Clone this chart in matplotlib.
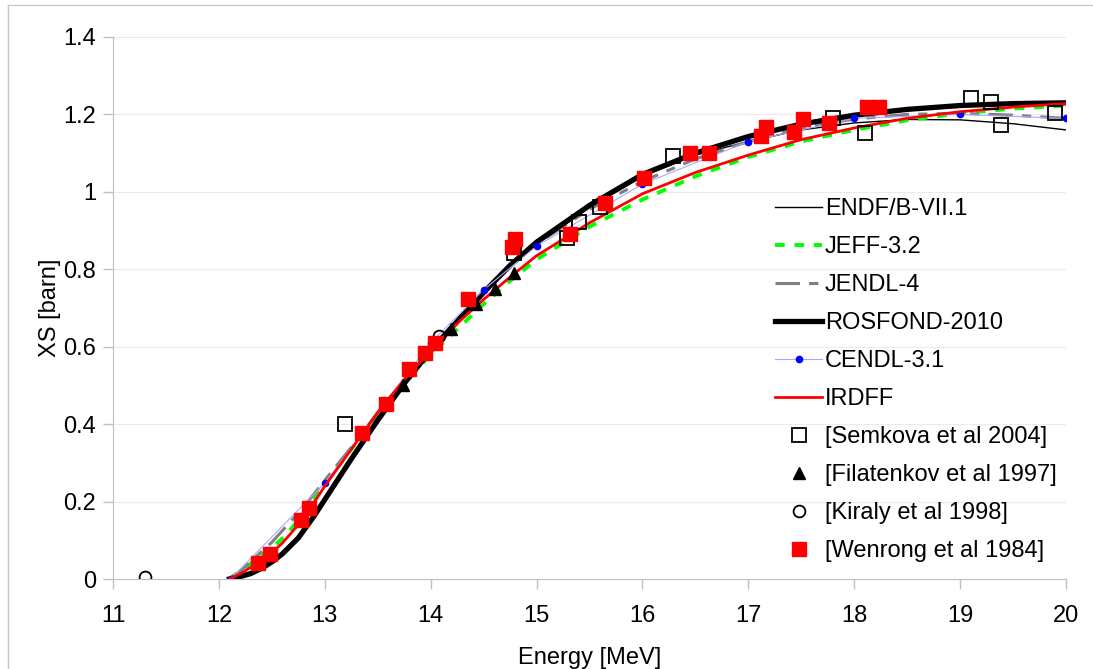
import numpy as np
import matplotlib
matplotlib.use('Agg')
import matplotlib.pyplot as plt
from matplotlib.lines import Line2D

# evaluated curves (common energy grid, MeV)
energy = [12.1, 12.2, 12.3, 12.4, 12.5, 12.6, 12.75, 12.9, 13.0, 13.25, 13.5, 13.75, 14.0, 14.25,
          14.5, 14.75, 15.0, 15.5, 16.0, 16.5, 17.0, 17.5, 18.0, 18.5, 19.0, 19.5, 20.0]
endf = [0, 0.006, 0.015, 0.03, 0.048, 0.068, 0.11, 0.168, 0.21, 0.315, 0.415, 0.51, 0.595, 0.67,
        0.74, 0.805, 0.865, 0.96, 1.04, 1.095, 1.13, 1.16, 1.178, 1.187, 1.186, 1.176, 1.16]
jeff = [0, 0.02, 0.04, 0.06, 0.08, 0.105, 0.15, 0.205, 0.245, 0.335, 0.425, 0.505, 0.58, 0.645,
        0.71, 0.77, 0.825, 0.91, 0.98, 1.04, 1.09, 1.13, 1.16, 1.185, 1.203, 1.215, 1.223]
jendl = [0, 0.02, 0.045, 0.07, 0.095, 0.125, 0.17, 0.22, 0.255, 0.34, 0.43, 0.515, 0.595, 0.67,
         0.745, 0.81, 0.865, 0.955, 1.027, 1.085, 1.13, 1.165, 1.188, 1.2, 1.203, 1.198, 1.19]
rosfond = [0, 0.006, 0.014, 0.027, 0.044, 0.065, 0.106, 0.163, 0.205, 0.31, 0.41, 0.505, 0.59, 0.665,
           0.74, 0.81, 0.87, 0.965, 1.045, 1.10, 1.143, 1.175, 1.198, 1.213, 1.223, 1.228, 1.23]
irdff = [0, 0.013, 0.03, 0.05, 0.068, 0.093, 0.14, 0.198, 0.24, 0.335, 0.43, 0.515, 0.59, 0.66,
         0.722, 0.78, 0.835, 0.92, 0.995, 1.05, 1.095, 1.135, 1.165, 1.19, 1.207, 1.219, 1.228]

# CENDL-3.1 (points joined by thin line)
cendl_e = [12.11, 13.0, 14.0, 14.5, 15.0, 16.0, 17.0, 18.0, 19.0, 20.0]
cendl_xs = [0, 0.248, 0.61, 0.747, 0.86, 1.02, 1.13, 1.19, 1.20, 1.19]

# experimental data
semkova_e = [13.19, 14.79, 15.29, 15.40, 15.60, 16.29, 17.80, 18.10, 19.10, 19.29, 19.39, 19.90]
semkova_xs = [0.40, 0.842, 0.881, 0.922, 0.961, 1.093, 1.19, 1.152, 1.243, 1.232, 1.173, 1.204]
filat_e = [13.74, 14.19, 14.43, 14.61, 14.79]
filat_xs = [0.50, 0.645, 0.71, 0.748, 0.79]
kiraly_e = [11.30, 14.08]
kiraly_xs = [0.005, 0.628]
wenrong_e = [12.37, 12.48, 12.78, 12.85, 13.35, 13.58, 13.80, 13.95, 14.04, 14.35, 14.77, 14.80,
             15.32, 15.65, 16.01, 16.45, 16.63, 17.12, 17.17, 17.43, 17.52, 17.76, 18.12, 18.23]
wenrong_xs = [0.041, 0.064, 0.152, 0.183, 0.378, 0.452, 0.542, 0.584, 0.61, 0.723, 0.858, 0.878,
              0.891, 0.972, 1.035, 1.10, 1.10, 1.143, 1.167, 1.155, 1.188, 1.178, 1.22, 1.22]

plt.rcParams['font.family'] = ['Liberation Sans', 'DejaVu Sans']
plt.rcParams['font.size'] = 17

fig = plt.figure(figsize=(10.93, 6.69), dpi=100)
ax = fig.add_axes([113 / 1093., 1 - 579 / 669., (1066 - 113) / 1093., (579 - 37) / 669.])

ax.plot(energy, endf, color='black', lw=1.0, label='ENDF/B-VII.1')
ax.plot(energy, jeff, color='#00FF00', lw=2.8, dashes=(2.5, 2.5), label='JEFF-3.2')
ax.plot(energy, jendl, color='#808080', lw=2.2, dashes=(8, 3, 3, 3), label='JENDL-4')
ax.plot(energy, rosfond, color='black', lw=3.8, label='ROSFOND-2010')
ax.plot(cendl_e, cendl_xs, color='#A8A8FF', lw=0.8, marker='o', ms=4.5,
        mfc='#0000FF', mec='#0000FF', label='CENDL-3.1')
ax.plot(energy, irdff, color='#FF0000', lw=2.0, label='IRDFF')

ax.plot(semkova_e, semkova_xs, ls='none', marker='s', ms=9.5, mfc='none', mec='black',
        mew=1.3, label='[Semkova et al 2004]')
ax.plot(filat_e, filat_xs, ls='none', marker='^', ms=8.5, color='black',
        label='[Filatenkov et al 1997]')
ax.plot(kiraly_e, kiraly_xs, ls='none', marker='o', ms=8.5, mfc='none', mec='black',
        mew=1.3, label='[Kiraly et al 1998]')
ax.plot(wenrong_e, wenrong_xs, ls='none', marker='s', ms=9.5, color='#FF0000',
        label='[Wenrong et al 1984]')

ax.set_xlim(11, 20)
ax.set_ylim(0, 1.4)
ax.set_xticks(np.arange(11, 21, 1))
ax.set_yticks(np.arange(0, 1.41, 0.2))
ax.set_yticklabels(['0', '0.2', '0.4', '0.6', '0.8', '1', '1.2', '1.4'])
ax.yaxis.grid(True, color='#EBEBEB', lw=0.8)
ax.set_axisbelow(True)

for side in ['top', 'right']:
    ax.spines[side].set_visible(False)
for side in ['left', 'bottom']:
    ax.spines[side].set_color('#BFBFBF')
ax.tick_params(axis='both', colors='#BFBFBF', labelcolor='black', length=7, width=1)
ax.tick_params(axis='x', pad=12)
ax.tick_params(axis='y', pad=5)

ax.set_xlabel('Energy [MeV]', labelpad=14)
ax.set_ylabel('XS [barn]', labelpad=2)

ax.legend(loc='upper left', bbox_to_anchor=(0.6947, 0.703), frameon=False,
          borderpad=0, borderaxespad=0, handlelength=2.0, handletextpad=0.12,
          labelspacing=0.68, fontsize=17)

# light frame around the chart area
fig.add_artist(Line2D([8 / 1093., 1], [1 - 5 / 669., 1 - 5 / 669.], color='#C8C8C8', lw=1))
fig.add_artist(Line2D([8 / 1093., 8 / 1093.], [0, 1 - 5 / 669.], color='#C8C8C8', lw=1))

fig.savefig('out.png', dpi=100)
